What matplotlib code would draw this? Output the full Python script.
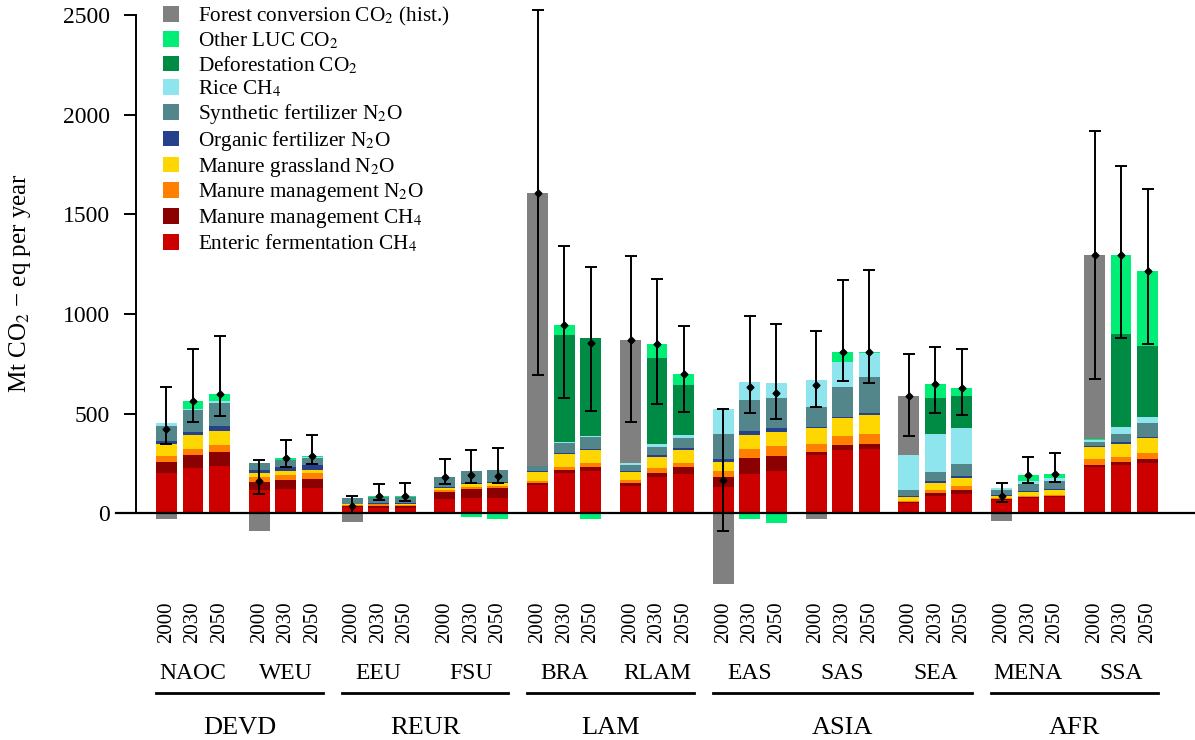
import matplotlib
matplotlib.use("Agg")
import matplotlib.pyplot as plt
import numpy as np
from matplotlib.patches import Patch
from matplotlib.transforms import blended_transform_factory


REGIONS = ["DEVD", "REUR", "LAM", "ASIA", "AFR"]
SUBREGIONS = ["NAOC", "WEU", "EEU", "FSU", "BRA", "RLAM", "EAS", "SAS", "SEA", "MENA", "SSA"]
SUB_PER_REGION = [2, 2, 2, 3, 2]
YEARS = ["2000", "2030", "2050"]

# Mt CO2-eq per year, one value per bar (11 subregions x 3 years)
enteric = [202, 228, 236, 115, 120, 125, 30, 28, 28, 72, 77, 77, 143, 202, 211, 138, 182, 197,
           132, 199, 212, 293, 318, 323, 49, 87, 97, 67, 77, 82, 233, 243, 253]
manure_ch4 = [54, 63, 70, 41, 46, 46, 5, 8, 7, 35, 45, 50, 10, 14, 21, 14, 20, 35,
              50, 79, 76, 15, 25, 25, 10, 15, 20, 5, 3, 5, 10, 15, 20]
manure_n2o = [30, 30, 35, 25, 25, 30, 6, 8, 8, 10, 10, 10, 8, 14, 20, 14, 24, 20,
              30, 45, 50, 40, 45, 50, 3, 15, 20, 5, 7, 5, 30, 25, 30]
grassland = [60, 70, 71, 20, 20, 15, 4, 3, 3, 10, 15, 15, 45, 67, 64, 40, 56, 64,
             46, 70, 70, 80, 90, 96, 20, 35, 40, 10, 20, 25, 60, 65, 75]
organic = [15, 16, 25, 15, 20, 25, 3, 5, 4, 3, 5, 5, 5, 5, 6, 5, 8, 12,
           15, 20, 20, 5, 6, 10, 5, 10, 10, 5, 5, 5, 5, 10, 5]
synthetic = [76, 113, 115, 35, 35, 35, 29, 30, 33, 52, 60, 60, 24, 52, 60, 31, 42, 49,
             125, 156, 151, 101, 150, 180, 30, 45, 61, 25, 35, 40, 20, 40, 70]
rice = [15, 4, 10, 0, 3, 8, 0, 0, 0, 0, 0, 0, 0, 5, 5, 10, 15, 15,
        124, 92, 72, 137, 127, 121, 176, 191, 180, 10, 14, 15, 10, 35, 30]
deforestation = [0, 0, 0, 0, 0, 0, 0, 0, 0, 0, 0, 0, 0, 534, 493, 0, 431, 251,
                 0, 0, 0, 0, 0, 0, 0, 181, 161, 0, 0, 0, 0, 467, 357]
other_luc = [0, 40, 35, 0, 7, 5, 0, 3, 4, 0, -18, -28, 0, 50, -28, 0, 71, 55,
             0, -28, -49, 0, 49, 5, 0, 70, 40, 0, 31, 20, 5, 397, 376]
forest_hist = [-30, 0, 0, -90, 0, 0, -42, 0, 0, 0, 0, 0, 1374, 0, 0, 618, 0, 0,
               -355, 0, 0, -28, 0, 0, 296, 0, 0, -38, 0, 0, 924, 0, 0]
err_low = [345, 458, 487, 99, 231, 249, 3, 65, 62, 147, 154, 154, 693, 576, 515, 456, 548, 508,
           -87, 502, 473, 535, 666, 651, 388, 505, 494, 55, 152, 157, 674, 880, 850]
err_high = [632, 825, 887, 266, 368, 395, 87, 146, 154, 273, 318, 326, 2524, 1343, 1233, 1292, 1177, 940,
            525, 990, 950, 915, 1170, 1222, 800, 835, 823, 154, 283, 303, 1916, 1740, 1628]

# bottom to top
COMPONENTS = [
    ("Enteric fermentation CH$_4$", enteric, "#CD0000"),
    ("Manure management CH$_4$", manure_ch4, "#8B0000"),
    ("Manure management N$_2$O", manure_n2o, "#FF7F00"),
    ("Manure grassland N$_2$O", grassland, "#FFD700"),
    ("Organic fertilizer N$_2$O", organic, "#27408B"),
    ("Synthetic fertilizer N$_2$O", synthetic, "#53868B"),
    ("Rice CH$_4$", rice, "#8EE5EE"),
    ("Deforestation CO$_2$", deforestation, "#008B45"),
    ("Other LUC CO$_2$", other_luc, "#00EE76"),
    ("Forest conversion CO$_2$ (hist.)", forest_hist, "#808080"),
]

W, H = 1195, 740


def fy(px):
    return 1 - px / H


def main():
    plt.rcParams.update({
        "font.family": ["Liberation Serif", "DejaVu Serif"],
        "mathtext.fontset": "stix",
        "axes.linewidth": 1.4,
    })
    fig = plt.figure(figsize=(W / 100, H / 100), dpi=100)
    ax = fig.add_axes([136 / W, fy(590), 1 - 136 / W, 590 / H])

    n = len(enteric)
    x = np.arange(n) + 0.5 * (np.arange(n) // 3)
    width = 0.79

    pos_base = np.zeros(n)
    neg_base = np.zeros(n)
    for label, vals, color in COMPONENTS:
        v = np.asarray(vals, dtype=float)
        pos = np.clip(v, 0, None)
        neg = np.clip(v, None, 0)
        ax.bar(x, pos, width, bottom=pos_base, color=color, linewidth=0)
        ax.bar(x, neg, width, bottom=neg_base, color=color, linewidth=0)
        pos_base += pos
        neg_base += neg

    net = pos_base + neg_base
    lo = np.asarray(err_low, dtype=float)
    hi = np.asarray(err_high, dtype=float)
    ax.errorbar(x, net, yerr=[net - lo, hi - net], fmt="D", color="black", markersize=3.5,
                elinewidth=1.4, capsize=4, capthick=1.4, zorder=5)

    # zero line, reaching slightly left of the axis
    trans = blended_transform_factory(ax.transAxes, ax.transData)
    ax.plot([-0.019, 1], [0, 0], color="black", linewidth=1.6, transform=trans, clip_on=False, zorder=6)

    ax.set_xlim(-1.15, 38.79)
    ax.set_ylim(-385, 2575)
    ax.set_yticks([0, 500, 1000, 1500, 2000, 2500])
    ax.tick_params(axis="y", labelsize=17, length=9, width=1.4, pad=10)
    ax.set_xticks([])
    for spine in ("top", "right", "bottom"):
        ax.spines[spine].set_visible(False)
    ax.spines["left"].set_bounds(0, 2500)
    ax.set_ylabel("Mt CO$_2$ \u2212 eq per year", fontsize=18)
    ax.yaxis.set_label_coords(-0.097, 0.52)

    # category labels under the bars
    tx = blended_transform_factory(ax.transData, fig.transFigure)
    for i in range(n):
        ax.text(x[i], fy(622), YEARS[i % 3], rotation=90, ha="center", va="center",
                fontsize=15, transform=tx)
    for k, name in enumerate(SUBREGIONS):
        ax.text(x[3 * k + 1], fy(679), name, ha="center", va="baseline", fontsize=17, transform=tx)
    start = 0
    for name, count in zip(REGIONS, SUB_PER_REGION):
        first = x[3 * start] - width / 2
        last = x[3 * (start + count) - 1] + width / 2
        ax.plot([first, last], [fy(693), fy(693)], color="black", linewidth=2,
                transform=tx, clip_on=False)
        ax.text((first + last) / 2, fy(734), name, ha="center", va="baseline", fontsize=19, transform=tx)
        start += count

    handles = [Patch(facecolor=c, edgecolor="none", label=l) for l, _, c in reversed(COMPONENTS)]
    fig.legend(handles=handles, loc="upper left", bbox_to_anchor=(163 / W, fy(5)),
               frameon=False, fontsize=15.3, handlelength=0.75, handleheight=0.75,
               handletextpad=0.9, labelspacing=0.13, borderpad=0, borderaxespad=0)

    fig.savefig("out.png", dpi=100)
    plt.close(fig)


if __name__ == "__main__":
    main()
